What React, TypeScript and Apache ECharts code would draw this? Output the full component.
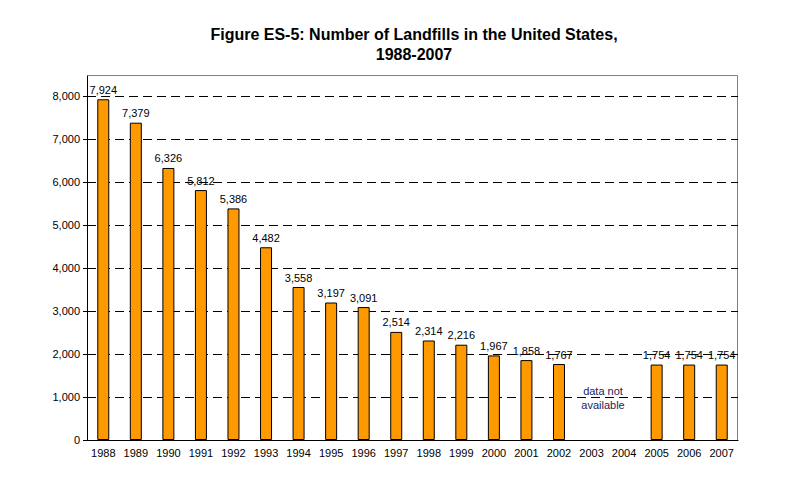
import React, { useEffect, useRef } from "react";
import * as echarts from "echarts";

const years = ["1988","1989","1990","1991","1992","1993","1994","1995","1996","1997","1998","1999","2000","2001","2002","2003","2004","2005","2006","2007"];
const landfills: (number | null)[] = [7924,7379,6326,5812,5386,4482,3558,3197,3091,2514,2314,2216,1967,1858,1767,null,null,1754,1754,1754];
const yTicks = { min: 0, max: 8000, interval: 1000 };
const titleLines = ["Figure ES-5: Number of Landfills in the United States,", "1988-2007"];
const note = "data not\navailable";

const fmt = (v: number) => v.toLocaleString("en-US");

export default function App() {
  const ref = useRef<HTMLDivElement>(null);
  useEffect(() => {
    if (!ref.current) return;
    const chart = echarts.init(ref.current, null, { renderer: "svg" });
    const font = "'Liberation Sans', Arial, sans-serif";
    chart.setOption({
      animation: false,
      backgroundColor: "#ffffff",
      textStyle: { fontFamily: font },
      title: {
        text: titleLines.join("\n"),
        left: 409,
        top: 19,
        textAlign: "center",
        textStyle: { fontSize: 16, fontWeight: "bold", color: "#000", lineHeight: 20, fontFamily: font },
      },
      grid: { left: 87, right: 58, top: 96, bottom: 45, containLabel: false },
      xAxis: {
        type: "category",
        data: years,
        axisLine: { lineStyle: { color: "#000", width: 1 } },
        axisTick: { length: 5, lineStyle: { color: "#000" } },
        axisLabel: { color: "#000", fontSize: 11, margin: 7, fontFamily: font, interval: 0 },
      },
      yAxis: {
        type: "value",
        min: yTicks.min,
        max: yTicks.max,
        interval: yTicks.interval,
        axisLine: { show: true, lineStyle: { color: "#000", width: 1 } },
        axisTick: { show: true, length: 4, lineStyle: { color: "#000" } },
        axisLabel: { color: "#000", fontSize: 11, margin: 7, fontFamily: font, formatter: (v: number) => fmt(v) },
        splitLine: { show: true, lineStyle: { color: "#000", type: [9, 5], width: 1 } },
      },
      series: [
        {
          type: "bar",
          data: landfills,
          barWidth: 12,
          itemStyle: { color: "#FF9900", borderColor: "#000", borderWidth: 1 },
          label: {
            show: true,
            position: "top",
            distance: 4,
            color: "#000",
            fontSize: 11,
            fontFamily: font,
            formatter: (p: any) => (p.value == null ? "" : fmt(p.value)),
          },
        },
      ],
      graphic: [
        { type: "line", shape: { x1: 87.5, y1: 75.5, x2: 737.5, y2: 75.5 }, style: { stroke: "#808080", lineWidth: 1 } },
        { type: "line", shape: { x1: 737.5, y1: 75.5, x2: 737.5, y2: 440 }, style: { stroke: "#808080", lineWidth: 1 } },
        { type: "line", shape: { x1: 87.5, y1: 75.5, x2: 87.5, y2: 96 }, style: { stroke: "#000", lineWidth: 1 } },
        {
          type: "text",
          x: 603,
          y: 398,
          style: { text: note, fill: "#1c1c5a", font: `11px ${font}`, textAlign: "center", textVerticalAlign: "middle", lineHeight: 14 },
        },
      ],
    });
    return () => chart.dispose();
  }, []);
  return <div ref={ref} style={{ width: 796, height: 485, position: "absolute", left: 0, top: 0 }} />;
}
